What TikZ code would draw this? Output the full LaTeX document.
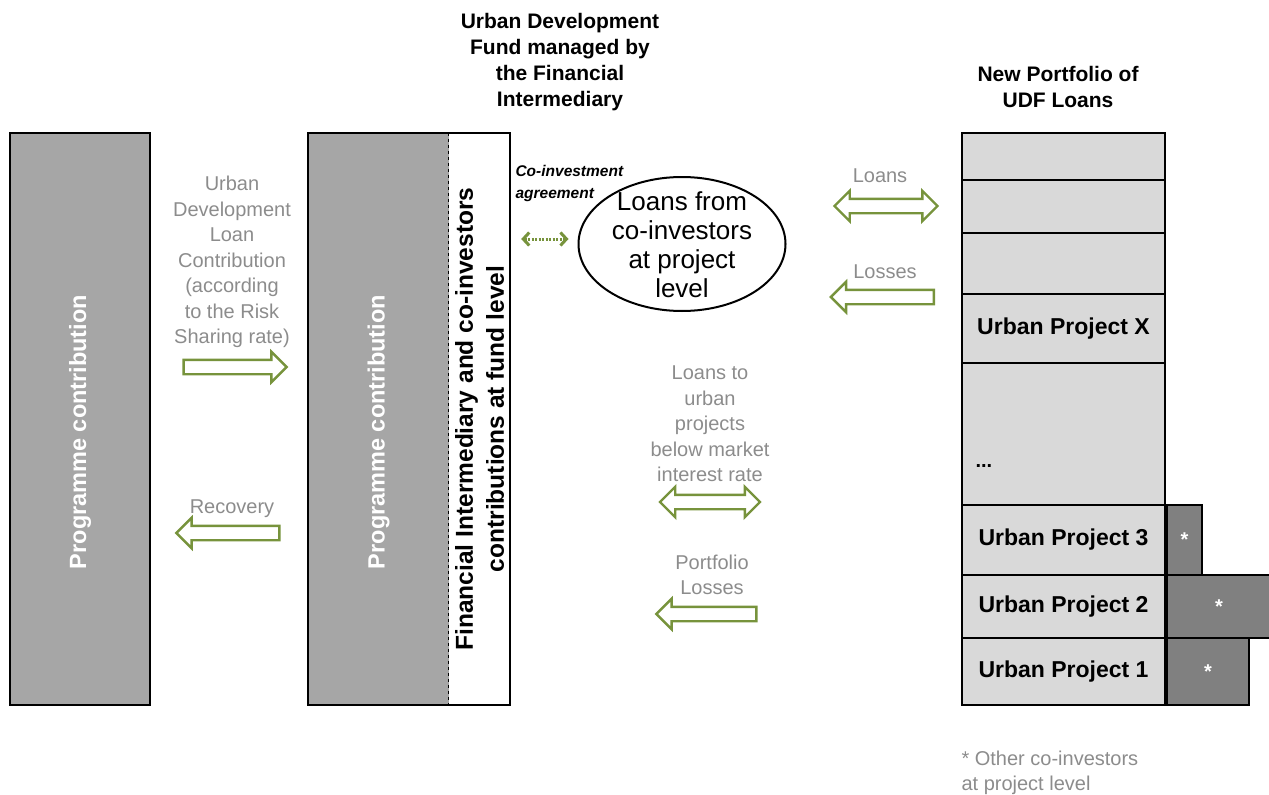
\documentclass[tikz,border=0pt]{standalone}
\usepackage{fontspec}
\setmainfont{Liberation Sans}
\usetikzlibrary{shapes.geometric,shapes.arrows,arrows.meta,positioning}

\definecolor{progGray}{RGB}{166,166,166}
\definecolor{rowGray}{RGB}{217,217,217}
\definecolor{otherGray}{RGB}{128,128,128}
\definecolor{labelGray}{RGB}{140,140,140}
\definecolor{flowGreen}{RGB}{119,147,60}

\def\portfolio{133/180/row-a/{}, 180/233/row-b/{}, 233/294/row-c/{}, 294/363/row-x/{Urban Project X}, 363/505/row-dots/{}, 505/575/row-3/{Urban Project 3}, 575/638/row-2/{Urban Project 2}, 638/705/row-1/{Urban Project 1}}

\tikzstyle{prog-box}=[rectangle, fill=progGray, minimum height=572pt, inner sep=0pt]
\tikzstyle{prog-text}=[rotate=90, text=white, font=\fontsize{23.5}{26}\selectfont\bfseries]
\tikzstyle{portfolio-row}=[rectangle, draw, line width=2pt, fill=rowGray, minimum width=203pt, inner sep=0pt, font=\fontsize{23}{26}\selectfont\bfseries]
\tikzstyle{other-box}=[rectangle, draw, line width=2pt, fill=otherGray, inner sep=0pt, anchor=west, text=white, font=\fontsize{20}{24}\selectfont\bfseries]
\tikzstyle{flow-label}=[align=center, text=labelGray, font=\fontsize{20}{25.5}\selectfont]
\tikzstyle{title-text}=[align=center, font=\fontsize{21}{26}\selectfont\bfseries]
\tikzstyle{block-arrow}=[draw=flowGreen, fill=white, line width=2.4pt, inner sep=0pt, text height=12pt, text depth=0pt, minimum height=103pt]
\tikzstyle{block-right}=[block-arrow, single arrow, single arrow head extend=8pt, single arrow tip angle=90]
\tikzstyle{block-left}=[block-right, shape border rotate=180]
\tikzstyle{block-both}=[block-arrow, double arrow, double arrow head extend=8pt, double arrow tip angle=90]
\tikzstyle{coinvest-link}=[draw=flowGreen, line width=3pt, dash pattern=on 2pt off 1.5pt, {Straight Barb[length=6pt,width=13pt]}-{Straight Barb[length=6pt,width=13pt]}]

\begin{document}
\begin{tikzpicture}[x=1pt, y=-1pt]
  \useasboundingbox (0,0) rectangle (1269,795);

  % Programme side and the fund
  \node[prog-box, draw, line width=2pt, minimum width=140pt] (prog-left) at (80,419) {};
  \node[prog-text] at ([yshift=-13pt]prog-left) {Programme contribution};

  \node[prog-box, minimum width=141pt] (prog-fund) at (378.5,419) {};
  \node[rectangle, fill=white, minimum width=61pt, minimum height=572pt, inner sep=0pt] (fi-fund) at (479.5,419) {};
  \draw[line width=2pt] (prog-fund.north west) rectangle (fi-fund.south east);
  \draw[dashed, line width=1pt] (fi-fund.north west) -- (fi-fund.south west);
  \node[prog-text] at ([yshift=-13pt]prog-fund) {Programme contribution};
  \node[rotate=90, align=center, font=\fontsize{24.5}{31}\selectfont\bfseries] at (fi-fund) {Financial Intermediary and co-investors\\contributions at fund level};

  \node[title-text] (udf-title) at (560,62) {Urban Development\\Fund managed by\\the Financial\\Intermediary};

  % Flows between programme and fund
  \node[flow-label] (contrib-label) at (232,262) {Urban\\Development\\Loan\\Contribution\\(according\\to the Risk\\Sharing rate)};
  \node[block-right] (contrib-arrow) at (231.5,367) {};
  \node[flow-label] (recovery-label) at (232,509) {Recovery};
  \node[block-left] (recovery-arrow) at (231.5,533) {};

  % Co-investors at project level
  \node[ellipse, draw, line width=2pt, minimum width=207pt, minimum height=134pt] (coinv) at (682,244) {};
  \node[align=center, font=\fontsize{26}{29}\selectfont] at (682,245) {Loans from\\co-investors\\at project\\level};
  \node[anchor=west, align=left, font=\fontsize{15.5}{22}\selectfont\bfseries\itshape] (coinv-label) at (512,183) {Co-investment\\agreement};
  \draw[coinvest-link, shorten <=11pt, shorten >=9pt] ([yshift=5pt]fi-fund.east |- coinv.west) -- ([yshift=5pt]coinv.west);

  \node[flow-label] (loans-label) at (880,176) {Loans};
  \node[block-both] (loans-arrow) at (886,206) {};
  \node[flow-label] (losses-label) at (885,272) {Losses};
  \node[block-left] (losses-arrow) at (886,297) {};

  \node[flow-label] (urban-label) at (710,424) {Loans to\\urban\\projects\\below market\\interest rate};
  \node[block-both, minimum height=100pt] (urban-arrow) at (710,502) {};
  \node[flow-label] (plosses-label) at (712,575) {Portfolio\\Losses};
  \node[block-left, minimum height=100pt] (plosses-arrow) at (710,614) {};

  % New portfolio of UDF loans
  \node[title-text] (udf-portfolio) at (1058,87) {New Portfolio of\\UDF Loans};
  \foreach \ya/\yb/\name/\txt in \portfolio {
    \node[portfolio-row, minimum height={(\yb-\ya)*1pt}] (\name) at (1063.5,{(\ya+\yb)/2}) {\txt};
  }
  \node[anchor=west, font=\fontsize{20}{24}\selectfont\bfseries] at (972,466) {...};

  \node[other-box, minimum width=35pt, minimum height=70pt] (other-3) at (row-3.east) {*};
  \node[other-box, minimum width=104pt, minimum height=63pt] (other-2) at (row-2.east) {*};
  \node[other-box, minimum width=82pt, minimum height=67pt] (other-1) at (row-1.east) {*};

  \node[flow-label, align=left, anchor=north west] (footnote) at (958,747) {* Other co-investors\\at project level};
\end{tikzpicture}
\end{document}
